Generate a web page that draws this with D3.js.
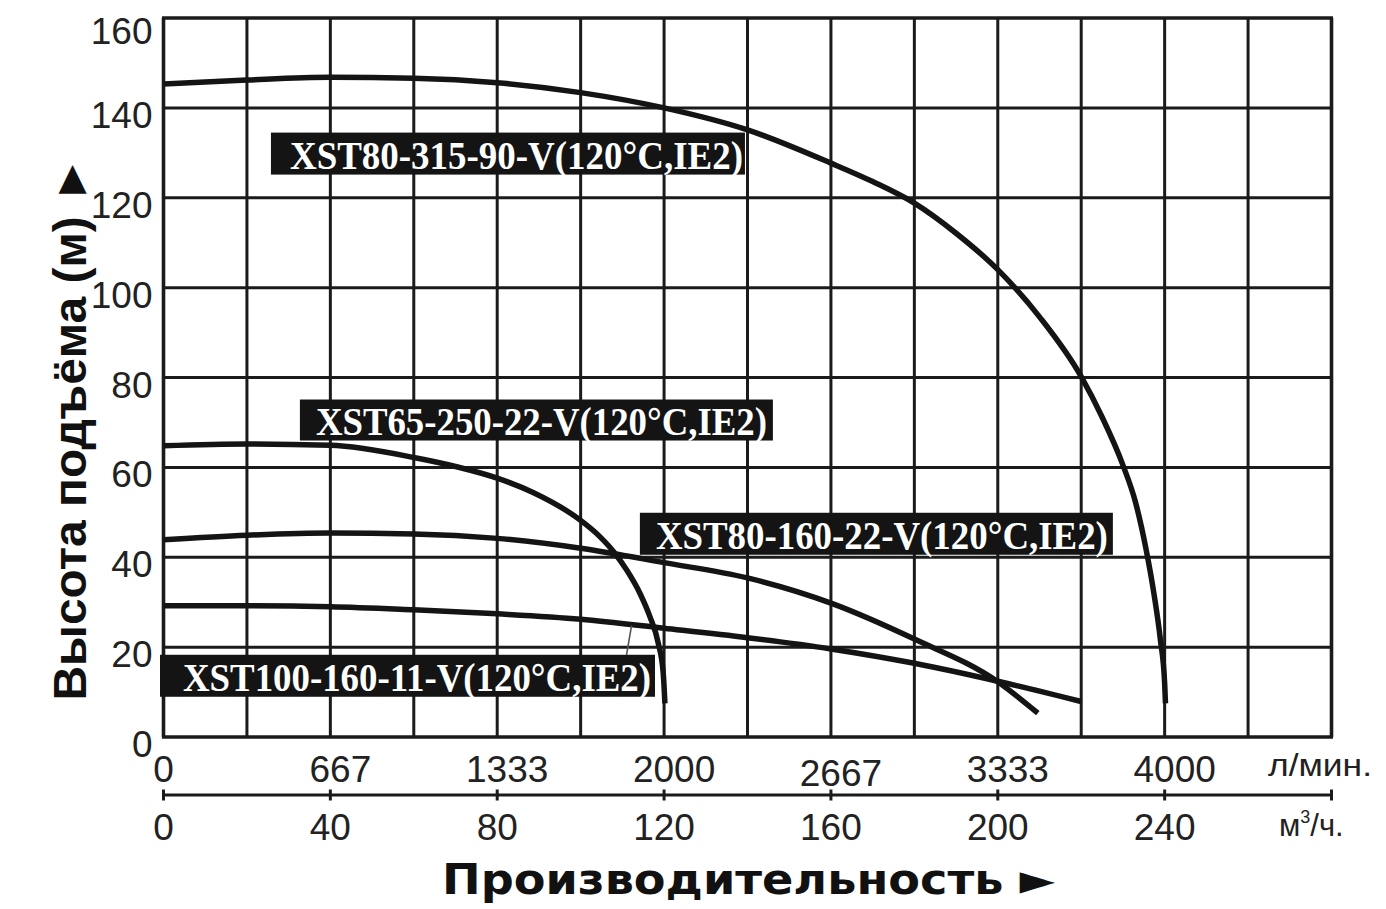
<!DOCTYPE html>
<html>
<head>
<meta charset="utf-8">
<script src="https://cdn.jsdelivr.net/npm/d3@7"></script>
<style>
  html, body { margin: 0; padding: 0; background: #fff; }
  svg { display: block; }
</style>
</head>
<body>
<svg id="chart" width="1386" height="909"></svg>
<script>
// ---------- DATA ----------
const flowTicksM3h = [0, 40, 80, 120, 160, 200, 240];
const flowTicksLpm = ["0", "667", "1333", "2000", "2667", "3333", "4000"];
const headTicks = [0, 20, 40, 60, 80, 100, 120, 140, 160];

const seriesNames = [
  "XST80-315-90-V(120°C,IE2)",
  "XST65-250-22-V(120°C,IE2)",
  "XST80-160-22-V(120°C,IE2)",
  "XST100-160-11-V(120°C,IE2)"
];

// flow (m³/h) and head (m) for each pump curve
const q_XST80_315 = [0, 20, 40, 60, 80, 100, 120, 140, 160, 170, 180, 190, 200, 210, 220, 225, 230, 233, 235.5, 237.5, 239, 240, 240.2];
const h_XST80_315 = [145.3, 146.2, 146.8, 146.6, 145.6, 143.4, 140.0, 135.1, 127.7, 123.6, 118.8, 112.1, 104.0, 93.5, 80.2, 71.2, 60.5, 52.3, 42.0, 31.5, 21.5, 12.0, 7.5];

const q_XST65_250 = [0, 20, 40, 60, 70, 80, 88.6, 100, 104.6, 108.2, 111, 114.2, 116.6, 118.6, 119.8, 120.2];
const h_XST65_250 = [64.8, 65.2, 64.9, 62.2, 60.2, 57.6, 54.4, 48.2, 44.6, 40.9, 37.2, 32.0, 26.8, 20.9, 14.2, 7.5];

const q_XST80_160 = [0, 20, 40, 60, 80, 100, 120, 140, 160, 180, 200, 209.6];
const h_XST80_160 = [43.9, 44.9, 45.4, 45.2, 44.2, 42.0, 38.8, 35.4, 29.8, 21.8, 12.3, 5.3];

const q_XST100_160 = [0, 20, 40, 60, 80, 100, 120, 140, 160, 180, 200, 220];
const h_XST100_160 = [29.2, 29.2, 29.0, 28.3, 27.4, 26.2, 24.2, 22.1, 19.6, 16.4, 12.4, 7.9];

// ---------- LAYOUT ----------
const plot = { left: 163.5, right: 1331.5, top: 18, bottom: 737 };
const xMax = 280, yMax = 160;

const svg = d3.select("#chart");
const x = d3.scaleLinear().domain([0, xMax]).range([plot.left, plot.right]);
const y = d3.scaleLinear().domain([0, yMax]).range([plot.bottom, plot.top]);

const ink = "#1b1b1b";
const sansFont = "'Liberation Sans', Arial, Helvetica, sans-serif";

// ---------- GRID ----------
const grid = svg.append("g");
grid.selectAll("line.v")
  .data(d3.range(0, xMax + 1, 20))
  .join("line")
  .attr("x1", d => x(d)).attr("x2", d => x(d))
  .attr("y1", y(0)).attr("y2", y(yMax))
  .attr("stroke", ink)
  .attr("stroke-width", d => (d === 0 || d === xMax) ? 3.6 : 3);
grid.selectAll("line.h")
  .data(d3.range(0, yMax + 1, 20))
  .join("line")
  .attr("x1", x(0) - 1.5).attr("x2", x(xMax) + 1.5)
  .attr("y1", d => y(d)).attr("y2", d => y(d))
  .attr("stroke", ink)
  .attr("stroke-width", d => (d === 0 || d === yMax) ? 3.6 : 3);

// ---------- Y TICK LABELS ----------
svg.append("g").selectAll("text")
  .data(headTicks)
  .join("text")
  .attr("x", plot.left - 11)
  .attr("y", d => Math.max(y(d) + 20, 44))
  .attr("text-anchor", "end")
  .attr("font-family", sansFont)
  .attr("font-size", 37)
  .attr("fill", "#222")
  .text(d => d);

// ---------- BOTTOM DOUBLE AXIS ----------
const axisY = 795;
const axisG = svg.append("g");
axisG.append("line")
  .attr("x1", x(0)).attr("x2", x(xMax))
  .attr("y1", axisY).attr("y2", axisY)
  .attr("stroke", ink).attr("stroke-width", 3);
axisG.selectAll("line.tk")
  .data(flowTicksM3h.concat([xMax]))
  .join("line")
  .attr("x1", d => x(d)).attr("x2", d => x(d))
  .attr("y1", axisY - 5.5).attr("y2", axisY + 5.5)
  .attr("stroke", ink).attr("stroke-width", 3);

// upper labels: l/min
axisG.selectAll("text.lpm")
  .data(flowTicksLpm)
  .join("text")
  .attr("x", (d, i) => x(flowTicksM3h[i]) + (i === 0 ? 0 : 10))
  .attr("y", (d, i) => i === 4 ? 786 : 782)
  .attr("text-anchor", "middle")
  .attr("font-family", sansFont)
  .attr("font-size", 37)
  .attr("fill", "#222")
  .text(d => d);

// lower labels: m³/h
axisG.selectAll("text.m3h")
  .data(flowTicksM3h)
  .join("text")
  .attr("x", d => x(d))
  .attr("y", 840)
  .attr("text-anchor", "middle")
  .attr("font-family", sansFont)
  .attr("font-size", 37)
  .attr("fill", "#222")
  .text(d => d);

// units
axisG.append("text")
  .attr("x", 1268).attr("y", 776)
  .attr("font-family", sansFont).attr("font-size", 32).attr("fill", "#222")
  .attr("textLength", 104).attr("lengthAdjust", "spacingAndGlyphs")
  .text("л/мин.");
const m3 = axisG.append("text")
  .attr("x", 1279).attr("y", 836)
  .attr("font-family", sansFont).attr("font-size", 31).attr("fill", "#222");
m3.append("tspan").text("м");
m3.append("tspan").attr("font-size", 18).attr("dy", -13).text("3");
m3.append("tspan").attr("dy", 13).text("/ч.");

// ---------- AXIS TITLES ----------
svg.append("text")
  .attr("x", 442).attr("y", 894)
  .attr("font-family", "'DejaVu Sans', Verdana, sans-serif")
  .attr("font-weight", "bold")
  .attr("font-size", 43)
  .attr("fill", "#111")
  .attr("textLength", 613)
  .attr("lengthAdjust", "spacingAndGlyphs")
  .text("Производительность ►");

svg.append("text")
  .attr("transform", "translate(86,428) rotate(-90)")
  .attr("text-anchor", "middle")
  .attr("font-family", sansFont)
  .attr("font-weight", "bold")
  .attr("font-size", 47)
  .attr("fill", "#111")
  .attr("textLength", 545)
  .attr("lengthAdjust", "spacingAndGlyphs")
  .text("Высота подъёма (м) ►");

// ---------- CURVES ----------
const curves = [
  { name: seriesNames[0], q: q_XST80_315, h: h_XST80_315 },
  { name: seriesNames[1], q: q_XST65_250, h: h_XST65_250 },
  { name: seriesNames[2], q: q_XST80_160, h: h_XST80_160 },
  { name: seriesNames[3], q: q_XST100_160, h: h_XST100_160 }
];
const line = d3.line()
  .x(d => x(d[0]))
  .y(d => y(d[1]))
  .curve(d3.curveMonotoneX);

svg.append("g").selectAll("path")
  .data(curves)
  .join("path")
  .attr("d", c => line(c.q.map((q, i) => [q, c.h[i]])))
  .attr("fill", "none")
  .attr("stroke", "#141414")
  .attr("stroke-width", 5.5)
  .attr("stroke-linecap", "butt");

// ---------- LEADER LINE (XST100 label to its curve) ----------
const leaderQ = [111.0, 112.2];
const leaderH = [18.3, 24.8];
svg.append("line")
  .attr("x1", x(leaderQ[0])).attr("y1", y(leaderH[0]))
  .attr("x2", x(leaderQ[1])).attr("y2", y(leaderH[1]))
  .attr("stroke", "#555").attr("stroke-width", 1.6);

// ---------- CURVE LABELS ----------
// anchor = top-left corner of label box in data units (m³/h, m)
const labelAnchorQ = [25.76, 32.7, 114.2, -0.84];
const labelAnchorH = [134.5, 75.1, 49.9, 18.3];
const labelBox = [
  { w: 474, h: 42, dx: 19, len: 453 },
  { w: 473, h: 41, dx: 16, len: 451 },
  { w: 473, h: 42, dx: 16, len: 452 },
  { w: 495, h: 42, dx: 23, len: 468 }
];
const lab = svg.append("g").selectAll("g")
  .data(seriesNames.map((n, i) => ({ n, i })))
  .join("g")
  .attr("transform", d => `translate(${x(labelAnchorQ[d.i])},${y(labelAnchorH[d.i])})`);
lab.append("rect")
  .attr("width", d => labelBox[d.i].w)
  .attr("height", d => labelBox[d.i].h)
  .attr("fill", "#141414");
lab.append("text")
  .attr("x", d => labelBox[d.i].dx)
  .attr("y", d => labelBox[d.i].h - 6)
  .attr("font-family", "'Liberation Serif', 'Times New Roman', serif")
  .attr("font-weight", "bold")
  .attr("font-size", 40)
  .attr("fill", "#fff")
  .attr("textLength", d => labelBox[d.i].len)
  .attr("lengthAdjust", "spacingAndGlyphs")
  .text(d => d.n);
</script>
</body>
</html>
